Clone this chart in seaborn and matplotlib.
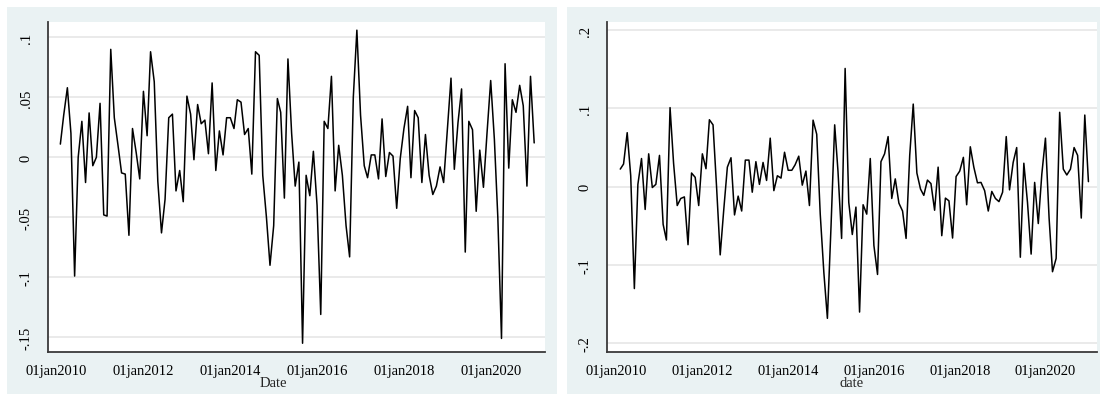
import numpy as np
import pandas as pd
import matplotlib
matplotlib.use("Agg")
import matplotlib.pyplot as plt
from matplotlib.patches import Rectangle
import seaborn as sns

# Monthly returns, Feb 2010 - Jan 2021
start_month = "2010-02-01"
n_months = 132

series_left = [
    0.011, 0.035, 0.058, 0.020, -0.099, 0.000, 0.030, -0.021, 0.037, -0.007,
    0.000, 0.045, -0.048, -0.049, 0.090, 0.033, 0.010, -0.013, -0.014, -0.065,
    0.024, 0.004, -0.018, 0.055, 0.018, 0.088, 0.063, -0.020, -0.063, -0.035,
    0.033, 0.036, -0.028, -0.011, -0.037, 0.051, 0.036, -0.002, 0.044, 0.028,
    0.031, 0.003, 0.062, -0.011, 0.022, 0.002, 0.033, 0.033, 0.024, 0.048,
    0.046, 0.019, 0.024, -0.014, 0.088, 0.085, -0.015, -0.050, -0.090, -0.057,
    0.049, 0.0375, -0.034, 0.082, 0.020, -0.024, -0.004, -0.155, -0.015, -0.032,
    0.005, -0.040, -0.131, 0.030, 0.024, 0.0675, -0.028, 0.010, -0.015, -0.057,
    -0.083, 0.050, 0.106, 0.035, -0.007, -0.017, 0.002, 0.002, -0.018, 0.032,
    -0.016, 0.004, 0.001, -0.0425, -0.001, 0.024, 0.0425, -0.017, 0.039, 0.033,
    -0.021, 0.019, -0.015, -0.031, -0.024, -0.008, -0.021, 0.022, 0.066, -0.010,
    0.029, 0.057, -0.079, 0.030, 0.023, -0.045, 0.006, -0.025, 0.020, 0.064,
    0.015, -0.050, -0.151, 0.078, -0.009, 0.048, 0.0375, 0.060, 0.043, -0.024,
    0.0675, 0.012,
]

series_right = [
    0.0225, 0.029, 0.069, 0.014, -0.130, 0.003, 0.036, -0.029, 0.042, -0.001,
    0.003, 0.040, -0.048, -0.068, 0.101, 0.030, -0.024, -0.015, -0.013, -0.074,
    0.0175, 0.012, -0.024, 0.042, 0.023, 0.0855, 0.079, 0.000, -0.087, -0.030,
    0.025, 0.037, -0.036, -0.012, -0.031, 0.034, 0.034, -0.007, 0.032, 0.003,
    0.031, 0.008, 0.062, -0.005, 0.014, 0.011, 0.044, 0.021, 0.021, 0.028,
    0.039, 0.002, 0.020, -0.024, 0.085, 0.067, -0.035, -0.110, -0.168, -0.050,
    0.079, 0.020, -0.066, 0.151, -0.020, -0.061, -0.026, -0.160, -0.023, -0.035,
    0.036, -0.075, -0.112, 0.032, 0.042, 0.064, -0.015, 0.010, -0.021, -0.031,
    -0.066, 0.040, 0.1055, 0.0175, -0.003, -0.011, 0.0085, 0.004, -0.030, 0.025,
    -0.0625, -0.0145, -0.018, -0.0655, 0.013, 0.020, 0.0375, -0.023, 0.051, 0.025,
    0.005, 0.0055, -0.005, -0.031, -0.006, -0.015, -0.019, -0.007, 0.064, -0.004,
    0.031, 0.050, -0.090, 0.030, -0.020, -0.086, 0.0055, -0.047, 0.016, 0.062,
    -0.040, -0.1085, -0.0915, 0.095, 0.0225, 0.015, 0.0225, 0.050, 0.040, -0.040,
    0.0915, 0.0065,
]

x_tick_dates = ["2010-01-01", "2012-01-01", "2014-01-01", "2016-01-01",
                "2018-01-01", "2020-01-01"]
x_tick_labels = ["01jan2010", "01jan2012", "01jan2014", "01jan2016",
                 "01jan2018", "01jan2020"]

y_ticks_left = [0.1, 0.05, 0.0, -0.05, -0.1, -0.15]
y_labels_left = [".1", ".05", "0", "-.05", "-.1", "-.15"]
y_ticks_right = [0.2, 0.1, 0.0, -0.1, -0.2]
y_labels_right = [".2", ".1", "0", "-.1", "-.2"]

x_titles = ["Date", "date"]

dates = pd.date_range(start_month, periods=n_months, freq="MS")
df_left = pd.DataFrame({"Date": dates, "value": series_left})
df_right = pd.DataFrame({"date": dates, "value": series_right})

sns.set_theme(style="white")
plt.rcParams["font.family"] = ["Liberation Serif", "DejaVu Serif"]
plt.rcParams["font.size"] = 10

W, H = 1101, 402
fig = plt.figure(figsize=(W / 100, H / 100), dpi=100)
fig.patch.set_facecolor("white")

region_color = "#EAF2F3"
axis_color = "#3a3a3a"
grid_color = "#E8E8E8"


def px_box(x0, y0, x1, y1):
    return [x0 / W, (H - y1) / H, (x1 - x0) / W, (y1 - y0) / H]


# Graph-region panels behind each plot
for (x0, y0, x1, y1) in [(7, 8, 557, 395), (567, 8, 1100, 395)]:
    b = px_box(x0, y0, x1, y1)
    fig.patches.append(Rectangle((b[0], b[1]), b[2], b[3], transform=fig.transFigure,
                                 facecolor=region_color, edgecolor="none", zorder=-10))

base = pd.Timestamp("2010-01-01")
panels = [
    dict(df=df_left, xcol="Date", box=px_box(48, 23, 545, 353),
         xlim=(base - pd.Timedelta(days=73), base + pd.Timedelta(days=4109)),
         ylim=(-0.1623, 0.1128), yt=y_ticks_left, yl=y_labels_left,
         title=x_titles[0], title_x=0.453, title_y=-0.074),
    dict(df=df_right, xcol="date", box=px_box(607, 23, 1097, 353),
         xlim=(base - pd.Timedelta(days=82), base + pd.Timedelta(days=4091)),
         ylim=(-0.211, 0.2103), yt=y_ticks_right, yl=y_labels_right,
         title=x_titles[1], title_x=0.5, title_y=-0.072),
]

for p in panels:
    ax = fig.add_axes(p["box"])
    ax.set_zorder(1)
    ax.set_facecolor("white")
    for yv in p["yt"]:
        ax.axhline(yv, color=grid_color, lw=1.3, zorder=1)
    sns.lineplot(data=p["df"], x=p["xcol"], y="value", ax=ax, color="black",
                 lw=1.1, zorder=3)
    ax.set_xlim(*p["xlim"])
    ax.set_ylim(*p["ylim"])
    ax.set_xticks([pd.Timestamp(d) for d in x_tick_dates])
    ax.set_xticklabels(x_tick_labels)
    ax.set_yticks(p["yt"])
    ax.set_yticklabels(p["yl"], rotation=90, va="center")
    ax.tick_params(axis="both", direction="out", length=5, width=1.0,
                   color=axis_color, labelcolor="black", labelsize=10.5)
    ax.tick_params(axis="x", pad=4)
    ax.tick_params(axis="y", pad=6)
    for s in ["top", "right"]:
        ax.spines[s].set_visible(False)
    for s in ["left", "bottom"]:
        ax.spines[s].set_color(axis_color)
        ax.spines[s].set_linewidth(1.3)
    ax.set_ylabel("")
    ax.set_xlabel(p["title"], fontsize=10.5, labelpad=0)
    ax.xaxis.set_label_coords(p["title_x"], p["title_y"])
    ax.xaxis.label.set_va("top")

fig.savefig("out.png", dpi=100, facecolor="white")
